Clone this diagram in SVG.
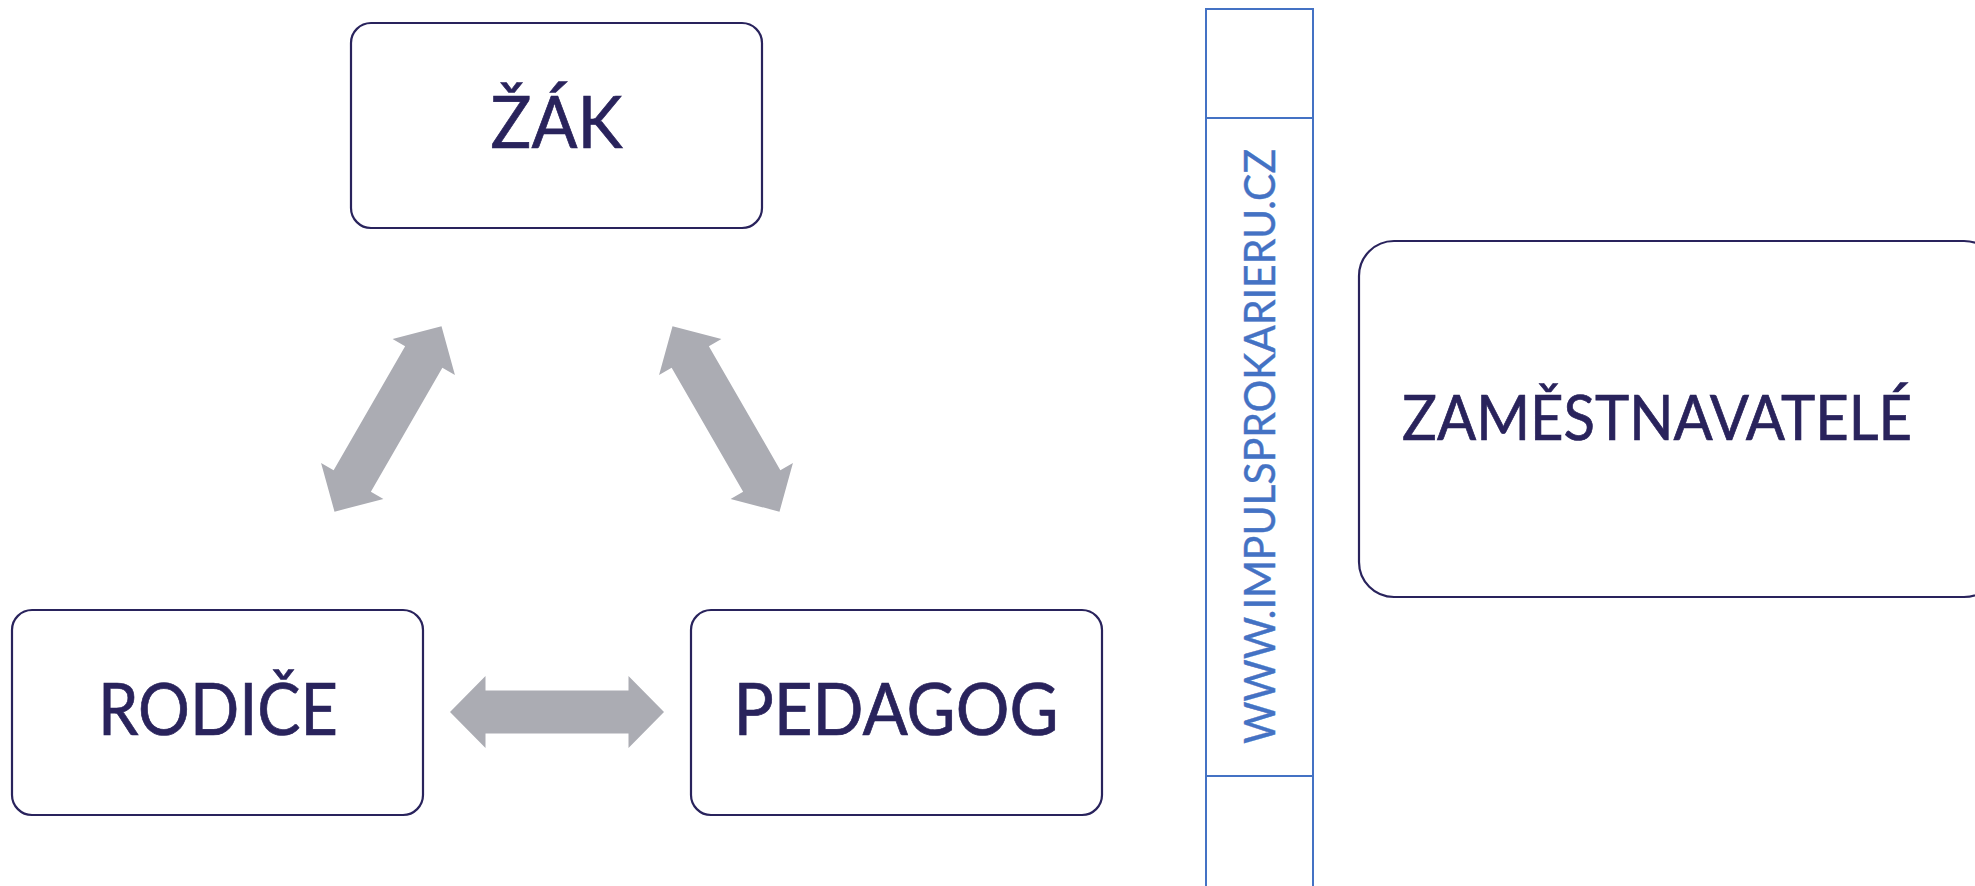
<svg xmlns="http://www.w3.org/2000/svg" width="1975" height="886" viewBox="0 0 1975 886">
<style>
.box{fill:#FFFFFF;stroke:#29235C;stroke-width:2.2}
.lbl{font-family:Lato,"Open Sans","Liberation Sans",sans-serif;fill:#29235C;stroke:#29235C;stroke-width:0.7;text-anchor:middle}
.arr{fill:#ABACB3}
.bar{fill:none;stroke:#4472C4;stroke-width:2}
.url{font-family:Lato,"Open Sans","Liberation Sans",sans-serif;fill:#4472C4;stroke:#4472C4;stroke-width:0.4;text-anchor:middle}
</style>
<defs>
<polygon id="dbl" points="-107,0 -71.5,-36 -71.5,-21.5 71.5,-21.5 71.5,-36 107,0 71.5,36 71.5,21.5 -71.5,21.5 -71.5,36"/>
</defs>
<rect width="1975" height="886" fill="#FFFFFF"/>
<g id="connectors">
<use href="#dbl" class="arr" transform="translate(388,419) rotate(-60)"/>
<use href="#dbl" class="arr" transform="translate(726,419) rotate(60)"/>
<use href="#dbl" class="arr" transform="translate(557,712)"/>
</g>
<g id="zak">
<rect class="box" x="351" y="23" width="411" height="205" rx="20"/>
<text class="lbl" x="556.5" y="148" font-size="71" textLength="132" lengthAdjust="spacingAndGlyphs">ŽÁK</text>
</g>
<g id="rodice">
<rect class="box" x="12" y="610" width="411" height="205" rx="20"/>
<text class="lbl" x="218" y="735" font-size="72" textLength="240" lengthAdjust="spacingAndGlyphs">RODIČE</text>
</g>
<g id="pedagog">
<rect class="box" x="691" y="610" width="411" height="205" rx="20"/>
<text class="lbl" x="896" y="735" font-size="72" textLength="325" lengthAdjust="spacingAndGlyphs">PEDAGOG</text>
</g>
<g id="bar">
<rect class="bar" x="1206" y="9" width="107" height="890"/>
<line class="bar" x1="1206" y1="118" x2="1313" y2="118"/>
<line class="bar" x1="1206" y1="776" x2="1313" y2="776"/>
<text class="url" transform="translate(1275,446.5) rotate(-90)" x="0" y="0" font-size="42" textLength="595" lengthAdjust="spacingAndGlyphs">WWW.IMPULSPROKARIERU.CZ</text>
</g>
<g id="zamestnavatele">
<rect class="box" x="1359" y="241" width="640" height="356" rx="35"/>
<text class="lbl" x="1657" y="440" font-size="62" textLength="510" lengthAdjust="spacingAndGlyphs">ZAMĚSTNAVATELÉ</text>
</g>
</svg>
